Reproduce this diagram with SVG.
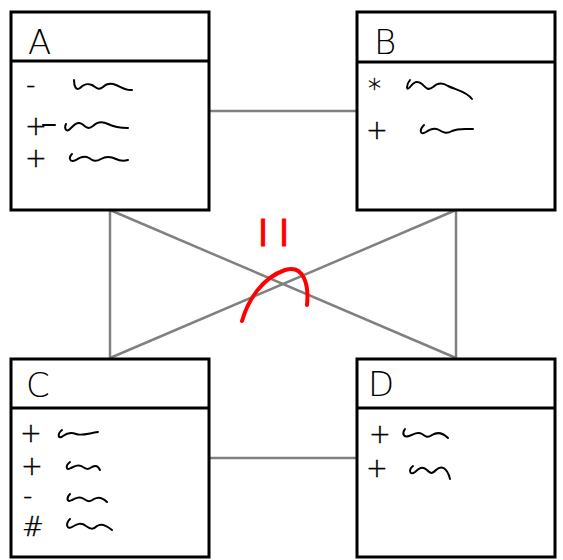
<svg xmlns="http://www.w3.org/2000/svg" width="563" height="560" viewBox="0 0 563 560">
<style>
.box{fill:#fff;stroke:#000;stroke-width:3}
.div{stroke:#000;stroke-width:3}
.conn{stroke:#808080;stroke-width:2.5;fill:none}
.name{font-family:"DejaVu Sans",sans-serif;font-weight:200;font-size:34px;fill:#000}
.sym{font-family:"DejaVu Sans",sans-serif;font-weight:200;font-size:26px;fill:#000;stroke:#000;stroke-width:0.4}
.sq{fill:none;stroke:#000;stroke-width:2;stroke-linecap:round;stroke-linejoin:round}
.red{fill:none;stroke:#f00;stroke-width:4;stroke-linecap:round}
</style>
<g id="connectors">
<line class="conn" x1="209" y1="111" x2="357" y2="111"/>
<line class="conn" x1="209" y1="458" x2="357" y2="458"/>
<line class="conn" x1="110" y1="210" x2="110" y2="358"/>
<line class="conn" x1="456" y1="210" x2="456" y2="358"/>
<line class="conn" x1="110" y1="210" x2="456" y2="358"/>
<line class="conn" x1="456" y1="210" x2="110" y2="358"/>
</g>
<g id="A">
<rect class="box" x="11" y="12" width="198" height="198"/>
<line class="div" x1="11" y1="61" x2="209" y2="61"/>
<text class="name" x="28" y="54">A</text>
<text class="sym" x="26" y="94">-</text>
<path class="sq" d="M74,80 C74,86 76,91 80,88 C84,84 87,83 92,85 C96,87 98,91 103,87 C107,83 111,83 116,85 C121,87 126,91 132,90"/>
<text class="sym" x="25" y="135">+</text>
<path class="sq" d="M43,125 L55,125 M66,124 C64,128 66,133 70,129 C74,125 77,121 82,124 C86,127 88,130 93,126 C97,122 102,121 108,124 C114,127 120,128 128,128"/>
<text class="sym" x="25" y="167">+</text>
<path class="sq" d="M72,154 C68,158 70,163 76,160 C80,157 84,155 89,158 C93,161 96,162 101,159 C106,156 110,156 116,159 C120,161 124,161 128,160"/>
</g>
<g id="B">
<rect class="box" x="357" y="12" width="198" height="198"/>
<line class="div" x1="357" y1="62" x2="555" y2="62"/>
<text class="name" x="374" y="54">B</text>
<text class="sym" x="368" y="98">*</text>
<path class="sq" d="M410,80 C406,85 406,92 410,87 C414,82 417,80 422,84 C426,88 428,91 433,87 C437,83 442,82 448,86 C456,90 466,91 472,99"/>
<text class="sym" x="366" y="139">+</text>
<path class="sq" d="M424,125 C419,130 420,136 426,132 C430,129 434,127 439,130 C444,133 447,134 452,131 C458,128 464,129 473,129"/>
</g>
<g id="C">
<rect class="box" x="11" y="359" width="198" height="198"/>
<line class="div" x1="11" y1="408" x2="209" y2="408"/>
<text class="name" x="26" y="397">C</text>
<text class="sym" x="20" y="442">+</text>
<path class="sq" d="M62,430 C57,434 58,440 63,436 C67,433 71,432 76,434 C81,436 86,434 98,432"/>
<text class="sym" x="21" y="475">+</text>
<path class="sq" d="M70,462 C65,466 66,471 71,468 C75,466 79,464 83,467 C86,469 88,470 92,467 C96,465 98,466 100,470"/>
<text class="sym" x="23" y="505">-</text>
<path class="sq" d="M70,494 C66,498 67,503 72,500 C76,498 80,496 84,499 C88,502 90,502 94,499 C99,496 103,498 107,502"/>
<text class="sym" x="22" y="536">#</text>
<path class="sq" d="M70,519 C65,524 67,530 72,527 C77,524 81,522 86,526 C90,529 93,530 97,526 C101,523 106,525 112,530"/>
</g>
<g id="D">
<rect class="box" x="357" y="359" width="198" height="198"/>
<line class="div" x1="357" y1="408" x2="555" y2="408"/>
<text class="name" x="368" y="396">D</text>
<text class="sym" x="369" y="443">+</text>
<path class="sq" d="M405,429 C402,433 403,438 409,436 C413,435 417,431 422,434 C426,437 428,438 432,435 C437,432 443,433 448,438"/>
<text class="sym" x="366" y="477">+</text>
<path class="sq" d="M413,466 C408,470 410,476 415,472 C419,468 422,466 427,470 C431,474 432,474 436,470 C441,465 447,467 450,479"/>
</g>
<g id="mark">
<text x="259" y="246" style="font-family:'Liberation Sans',sans-serif;font-size:36px;fill:#f00;stroke:#f00;stroke-width:1;letter-spacing:13px">ll</text>
<path class="red" d="M242,321 C248,300 262,278 285,270 C304,264 309,285 307,305"/>
</g>
</svg>
